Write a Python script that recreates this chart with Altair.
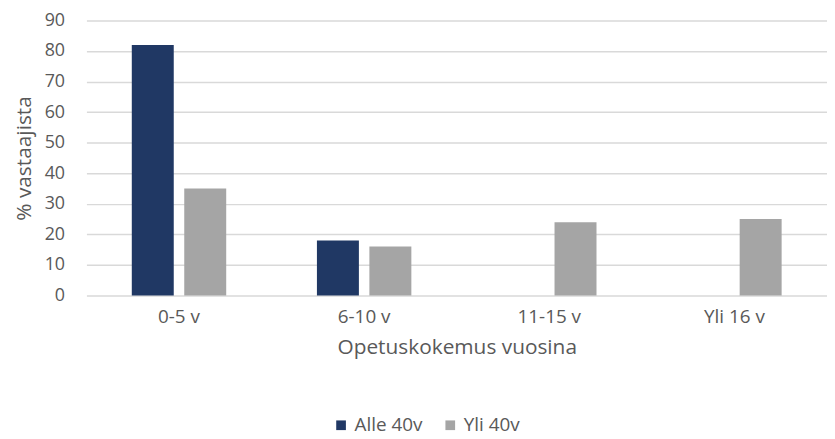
import altair as alt
import pandas as pd

categories = ["0-5 v", "6-10 v", "11-15 v", "Yli 16 v"]
series = ["Alle 40v", "Yli 40v"]
alle40 = [82, 18, 0, 0]
yli40 = [35, 16, 24, 25]
colors = ["#203864", "#A5A5A5"]

rows = []
for c, a, y in zip(categories, alle40, yli40):
    rows.append({"cat": c, "ser": series[0], "val": a})
    rows.append({"cat": c, "ser": series[1], "val": y})
df = pd.DataFrame(rows)

FONT = "Open Sans"
TXT = "#595959"

chart = alt.Chart(df).mark_bar().encode(
    x=alt.X("cat:N", sort=categories,
            scale=alt.Scale(paddingInner=0.49, paddingOuter=0.245),
            axis=alt.Axis(title="Opetuskokemus vuosina", labelAngle=0, ticks=False, domain=False,
                          labelPadding=12, titlePadding=10, labelFontSize=19, titleFontSize=21,
                          labelColor=TXT, titleColor=TXT, labelFont=FONT, titleFont=FONT,
                          titleFontWeight="normal")),
    xOffset=alt.XOffset("ser:N", sort=series, scale=alt.Scale(paddingInner=0.2)),
    y=alt.Y("val:Q", scale=alt.Scale(domain=[0, 90]),
            axis=alt.Axis(title="% vastaajista", values=list(range(0, 91, 10)), ticks=False, domain=False,
                          labelPadding=22, titlePadding=10, labelFontSize=18, titleFontSize=21,
                          labelColor=TXT, titleColor=TXT, labelFont=FONT, titleFont=FONT,
                          titleFontWeight="normal", gridColor="#D9D9D9", gridWidth=1.5)),
    color=alt.Color("ser:N", sort=series, scale=alt.Scale(domain=series, range=colors),
                    legend=alt.Legend(title=None, orient="none", direction="horizontal",
                                      legendX=247, legendY=398, symbolType="square", symbolSize=95,
                                      labelFontSize=19, labelColor=TXT, labelFont=FONT,
                                      labelOffset=4, columnPadding=18, symbolStrokeWidth=0)),
).properties(
    width=746, height=277,
    autosize=alt.AutoSizeParams(type="none"),
    padding={"left": 79, "top": 11, "right": 0, "bottom": 140},
).configure_view(stroke=None)

chart.save("out.html", embed_options={"renderer": "svg", "actions": False})
